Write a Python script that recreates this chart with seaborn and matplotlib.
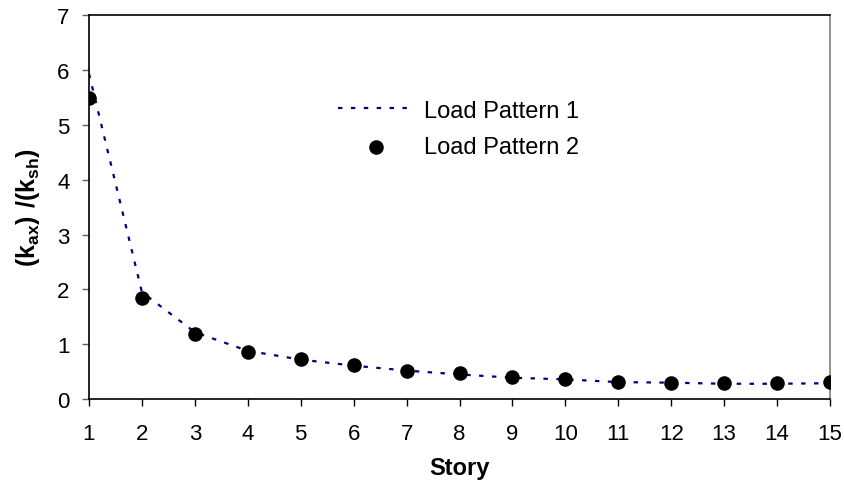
import matplotlib
matplotlib.use("Agg")
import matplotlib.pyplot as plt
import seaborn as sns
import pandas as pd

story = list(range(1, 16))
pattern1 = [5.93, 1.95, 1.22, 0.88, 0.72, 0.61, 0.52, 0.45, 0.39, 0.36, 0.31, 0.30, 0.28, 0.28, 0.29]
pattern2 = [5.48, 1.85, 1.18, 0.86, 0.73, 0.62, 0.52, 0.47, 0.40, 0.36, 0.32, 0.29, 0.29, 0.29, 0.32]

sns.set_theme(style="white")
plt.rcParams['font.family'] = ['Liberation Sans', 'DejaVu Sans']
plt.rcParams['mathtext.fontset'] = 'custom'
plt.rcParams['mathtext.rm'] = 'Liberation Sans'
plt.rcParams['mathtext.bf'] = 'Liberation Sans:bold'
plt.rcParams['text.color'] = 'black'
plt.rcParams['axes.labelcolor'] = 'black'

df = pd.DataFrame({"Story": story, "p1": pattern1, "p2": pattern2})

fig = plt.figure(figsize=(8.45, 4.85), dpi=100)
ax = fig.add_axes([0.1053, 0.175, 0.877, 0.792])

sns.lineplot(data=df, x="Story", y="p1", ax=ax, color="#000080", linewidth=1.6,
             dashes=False, label="Load Pattern 1")
ax.lines[0].set_dashes((2.0, 3.8))
sns.scatterplot(data=df, x="Story", y="p2", ax=ax, color="black", s=110,
                edgecolor="black", linewidth=0, label="Load Pattern 2", zorder=3)

ax.set_xlim(1, 15)
ax.set_ylim(0, 7)
ax.set_xticks(story)
ax.set_yticks(range(0, 8))
ax.tick_params(axis='both', labelsize=16, length=5, width=1, direction='out',
               colors='black', bottom=True, left=True)
ax.tick_params(axis='y', color='#606060', pad=9)
ax.tick_params(axis='x', pad=12)
for s in ['left', 'bottom', 'top']:
    ax.spines[s].set_color('black')
    ax.spines[s].set_linewidth(1.2)
ax.spines['right'].set_color('#808080')
ax.spines['right'].set_linewidth(1.2)

ax.set_xlabel("Story", fontsize=17, fontweight='bold', labelpad=9)
ax.set_ylabel(r"$\mathbf{(k_{ax})\ /(k_{sh})}$", fontsize=18, labelpad=11)

leg = ax.legend(loc='upper left', bbox_to_anchor=(0.336, 0.78), frameon=False,
                fontsize=17, handlelength=3.2, handletextpad=0.45, labelspacing=0.62,
                borderpad=0, borderaxespad=0)

fig.savefig("out.png", dpi=100)
